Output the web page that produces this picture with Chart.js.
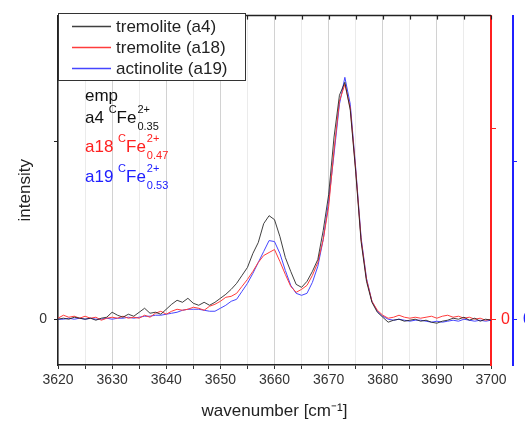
<!DOCTYPE html>
<html>
<head>
<meta charset="utf-8">
<script src="https://cdn.jsdelivr.net/npm/chart.js@4"></script>
<style>
  body { margin: 0; overflow: hidden; background: #fff; }
  #wrap { width: 545px; height: 421px; }
</style>
</head>
<body>
<div id="wrap"><canvas id="chartContainer" width="545" height="421"></canvas></div>
<script>
// wavenumber [cm-1]
const wavenumbers = [
  3620,3621,3622,3623,3624,3625,3626,3627,3628,3629,
  3630,3631,3632,3633,3634,3635,3636,3637,3638,3639,
  3640,3641,3642,3643,3644,3645,3646,3647,3648,3649,
  3650,3651,3652,3653,3654,3655,3656,3657,3658,3659,
  3660,3661,3662,3663,3664,3665,3666,3667,3668,3669,
  3670,3671,3672,3673,3674,3675,3676,3677,3678,3679,
  3680,3681,3682,3683,3684,3685,3686,3687,3688,3689,
  3690,3691,3692,3693,3694,3695,3696,3697,3698,3699,
  3700
];

// intensities (arbitrary units)
const tremoliteA4 = [
  0,1,0,2,1,0,1,-1,1,2,
  7,4,2,5,3,7,11,6,7,5,
  10,15,19,17,21,16,14,17,14,17,
  21,25,30,36,44,52,66,77,96,104,
  100,83,62,48,35,32,38,48,60,89,
  125,183,225,238,210,148,78,38,17,7,
  2,-3,-1,0,-2,-1,0,-2,-1,-3,
  -4,-2,-1,1,0,2,-1,1,-2,0,
  -1
];
const tremoliteA18 = [
  1,4,2,3,1,3,1,2,-1,1,
  2,1,3,1,2,1,4,2,6,8,
  5,8,10,9,10,12,11,9,13,15,
  18,22,23,26,33,40,48,57,64,67,
  70,58,45,33,27,30,34,44,57,80,
  113,170,219,236,212,150,80,40,18,9,
  4,1,2,4,2,1,2,1,2,3,
  1,3,4,2,3,1,2,0,1,-1,
  0
];
const actinoliteA19 = [
  0,0,1,0,1,0,1,0,0,1,
  0,1,1,2,1,2,3,3,4,4,
  5,6,7,9,10,10,10,9,8,8,
  11,14,18,20,28,36,46,57,68,79,
  78,66,49,34,26,24,26,37,53,80,
  118,166,216,243,216,152,82,41,18,8,
  3,0,-1,0,-1,-2,-1,-1,-2,-3,
  -2,-3,-2,-1,-2,0,-1,-2,-1,-2,
  -1
];

const seriesLabels = ["tremolite (a4)", "tremolite (a18)", "actinolite (a19)"];
const seriesColors = ["rgba(30,30,30,0.85)", "#ff3c3c", "#4646ff"];

// y range and the tick each axis shows
const yRange = [-46, 305];
const leftTicks = [0, 179];
const redTicks = [0, 192];
const blueTicks = [0, 158];

// text block top-left
const empLines = [
  { prefix: "a4", sub: "0.35", color: "#111" },
  { prefix: "a18", sub: "0.47", color: "#ff2020" },
  { prefix: "a19", sub: "0.53", color: "#2020ff" }
];

const FONT = "'Liberation Sans', Arial, sans-serif";

function toPoints(values) {
  return values.map((v, i) => ({ x: wavenumbers[i], y: v }));
}

// top frame line with inward ticks
const frameTop = {
  id: "frameTop",
  afterDraw(chart) {
    const { ctx, chartArea } = chart;
    const xs = chart.scales.x;
    ctx.save();
    ctx.strokeStyle = "#222";
    ctx.lineWidth = 1.5;
    ctx.beginPath();
    ctx.moveTo(chartArea.left, chartArea.top);
    ctx.lineTo(chartArea.right, chartArea.top);
    ctx.stroke();
    ctx.lineWidth = 1.2;
    for (const t of xs.ticks) {
      const px = Math.round(xs.getPixelForValue(t.value)) + 0.5;
      ctx.beginPath();
      ctx.moveTo(px, chartArea.top);
      ctx.lineTo(px, chartArea.top + 4);
      ctx.stroke();
    }
    ctx.restore();
  }
};

// boxed legend + emp text
const legendBox = {
  id: "legendBox",
  afterDraw(chart) {
    const ctx = chart.ctx;
    ctx.save();
    ctx.fillStyle = "#fff";
    ctx.fillRect(58.5, 13.5, 187, 67);
    ctx.strokeStyle = "#333";
    ctx.lineWidth = 1;
    ctx.strokeRect(58.5, 13.5, 187, 67);
    ctx.font = "17px " + FONT;
    ctx.textBaseline = "middle";
    chart.data.datasets.forEach((ds, i) => {
      const y = 26 + 21 * i;
      ctx.fillStyle = seriesColors[i];
      ctx.fillRect(72, y - 0.25, 39, 1.5);
      ctx.fillStyle = "#222";
      ctx.fillText(ds.label, 116, y + 1.5);
    });

    ctx.fillStyle = "#111";
    ctx.fillText("emp", 85, 96);
    const rowsY = [118, 147, 177];
    empLines.forEach((e, i) => {
      const y = rowsY[i];
      ctx.fillStyle = e.color;
      ctx.font = "17px " + FONT;
      ctx.fillText(e.prefix, 85, y);
      let x = 85 + ctx.measureText(e.prefix + " ").width;
      ctx.font = "11px " + FONT;
      ctx.fillText("C", x, y - 8);
      x += ctx.measureText("C").width;
      ctx.font = "17px " + FONT;
      ctx.fillText("Fe", x, y);
      x += ctx.measureText("Fe").width + 1;
      ctx.font = "11px " + FONT;
      ctx.fillText("2+", x, y - 8);
      ctx.fillText(e.sub, x, y + 9);
    });
    ctx.restore();
  }
};

function fixedTicks(list) {
  return function (scale) {
    scale.ticks = list.map(v => ({ value: v }));
  };
}

const chart = new Chart("chartContainer", {
  type: "line",
  data: {
    datasets: [
      { label: seriesLabels[0], data: toPoints(tremoliteA4), borderColor: seriesColors[0], yAxisID: "y" },
      { label: seriesLabels[1], data: toPoints(tremoliteA18), borderColor: seriesColors[1], yAxisID: "yRed" },
      { label: seriesLabels[2], data: toPoints(actinoliteA19), borderColor: seriesColors[2], yAxisID: "yBlue" }
    ]
  },
  options: {
    responsive: false,
    animation: false,
    devicePixelRatio: 1,
    layout: { padding: { top: 14, left: 0, right: 0, bottom: 0 } },
    elements: {
      line: { borderWidth: 1, tension: 0 },
      point: { radius: 0 }
    },
    plugins: {
      legend: { display: false },
      tooltip: { enabled: false }
    },
    scales: {
      x: {
        type: "linear",
        position: "bottom",
        min: 3620,
        max: 3700,
        afterFit: s => { s.height = 56; },
        ticks: {
          stepSize: 5,
          autoSkip: false,
          maxRotation: 0,
          padding: 3,
          color: "#333",
          font: { family: FONT, size: 14 },
          callback: v => (v % 10 === 0 ? String(v) : "")
        },
        grid: {
          color: c => (c.tick && c.tick.value % 10 === 0 ? "#d2d2d2" : "#ebebeb"),
          tickColor: "#333",
          tickLength: 4
        },
        border: { color: "#222", width: 1.5 },
        title: {
          display: true,
          text: "wavenumber [cm\u207B\u00B9]",
          color: "#222",
          font: { family: FONT, size: 17, lineHeight: 1 },
          padding: { top: 0, bottom: 1 }
        }
      },
      y: {
        position: "left",
        min: yRange[0],
        max: yRange[1],
        afterBuildTicks: fixedTicks(leftTicks),
        afterFit: s => { s.width = 58; },
        ticks: {
          padding: 7,
          color: "#333",
          font: { family: FONT, size: 14 },
          callback: v => (v === 0 ? "0" : "")
        },
        grid: { drawOnChartArea: false, tickColor: "#222", tickLength: 4 },
        border: { color: "#222", width: 1.5 },
        title: {
          display: true,
          text: "intensity",
          color: "#222",
          font: { family: FONT, size: 17, lineHeight: 1.2 },
          padding: { top: 15, bottom: 0 }
        }
      },
      yRed: {
        position: "right",
        weight: 0,
        min: yRange[0],
        max: yRange[1],
        afterBuildTicks: fixedTicks(redTicks),
        afterFit: s => { s.width = 22; },
        ticks: {
          padding: 5,
          color: "#ff2020",
          font: { family: FONT, size: 16 },
          callback: v => (v === 0 ? "0" : "")
        },
        grid: { drawOnChartArea: false, tickColor: "#ff2020", tickLength: 5 },
        border: { color: "#ff2020", width: 2 }
      },
      yBlue: {
        position: "right",
        weight: 1,
        min: yRange[0],
        max: yRange[1],
        afterBuildTicks: fixedTicks(blueTicks),
        afterFit: s => { s.width = 32; },
        ticks: {
          padding: 6,
          color: "#2020ff",
          font: { family: FONT, size: 16 },
          callback: v => (v === 0 ? "0" : "")
        },
        grid: { drawOnChartArea: false, tickColor: "#2020ff", tickLength: 4 },
        border: { color: "#2020ff", width: 2 }
      }
    }
  },
  plugins: [frameTop, legendBox]
});
</script>
</body>
</html>
